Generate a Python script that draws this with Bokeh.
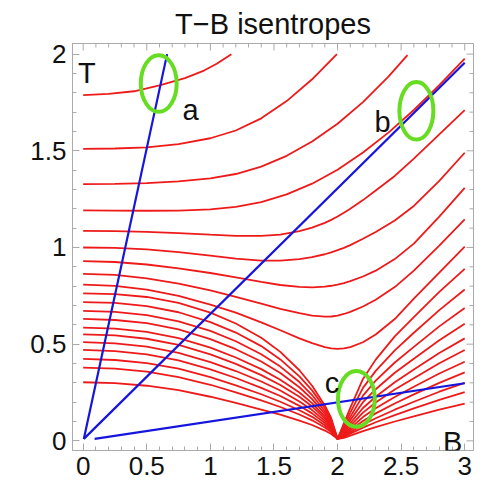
from bokeh.plotting import figure
from bokeh.models import Range1d, LinearAxis, SingleIntervalTicker, CustomJSTickFormatter, Label, Title
from bokeh.embed import file_html
from bokeh.resources import INLINE

# ---------------- data ----------------
# upper isentropes that leave the top of the plot
iso01_B = [0, 0.2, 0.4, 0.6, 0.8, 0.95, 1.05, 1.165]
iso01_T = [1.788, 1.794, 1.808, 1.838, 1.876, 1.915, 1.95, 2.0]
iso02_B = [0, 0.25, 0.5, 0.75, 1.0, 1.2, 1.4, 1.6, 1.8, 1.995]
iso02_T = [1.510, 1.512, 1.518, 1.535, 1.565, 1.605, 1.668, 1.757, 1.87, 2.0]
iso03_B = [0, 0.25, 0.5, 0.75, 1.0, 1.2, 1.4, 1.6, 1.8, 2.0, 2.2, 2.4, 2.55]
iso03_T = [1.328, 1.329, 1.333, 1.342, 1.357, 1.38, 1.418, 1.474, 1.548, 1.64, 1.752, 1.884, 1.995]
iso04_B = [0, 0.25, 0.5, 0.75, 1.0, 1.2, 1.4, 1.6, 1.8, 2.0, 2.2, 2.4, 2.6, 2.8, 3.0]
iso04_T = [1.192, 1.191, 1.19, 1.191, 1.197, 1.21, 1.235, 1.275, 1.33, 1.402, 1.491, 1.594, 1.711, 1.84, 1.977]

# isentropes read on a common field grid
B_grid = [0, 0.25, 0.5, 0.75, 1.0, 1.2, 1.4, 1.55, 1.7, 1.8, 1.9, 1.95, 2.0,
          2.05, 2.1, 2.2, 2.3, 2.45, 2.6, 2.8, 3.0]
iso05_T = [1.086, 1.085, 1.081, 1.074, 1.066, 1.06, 1.06, 1.066, 1.085, 1.103, 1.127, 1.143, 1.16,
           1.18, 1.2, 1.245, 1.295, 1.37, 1.46, 1.585, 1.71]
iso06_T = [1.0, 0.998, 0.99, 0.976, 0.958, 0.942, 0.932, 0.932, 0.94, 0.95, 0.965, 0.975, 0.986,
           0.998, 1.012, 1.045, 1.08, 1.14, 1.215, 1.345, 1.49]
iso07_T = [0.929, 0.925, 0.912, 0.892, 0.868, 0.845, 0.822, 0.806, 0.796, 0.794, 0.798, 0.802, 0.808,
           0.816, 0.826, 0.85, 0.88, 0.94, 1.02, 1.16, 1.308]
iso08_T = [0.864, 0.858, 0.84, 0.813, 0.778, 0.745, 0.71, 0.683, 0.66, 0.648, 0.642, 0.643, 0.648,
           0.656, 0.667, 0.695, 0.73, 0.795, 0.88, 1.01, 1.146]
iso09_T = [0.808, 0.801, 0.782, 0.75, 0.705, 0.663, 0.613, 0.572, 0.53, 0.505, 0.485, 0.478, 0.476,
           0.478, 0.485, 0.51, 0.55, 0.63, 0.735, 0.87, 1.005]
iso10_T = [0.763, 0.759, 0.744, 0.713, 0.663, 0.607, 0.533, 0.460, 0.365, 0.285, 0.183, 0.118, 0.01,
           0.09, 0.17, 0.32, 0.42, 0.54, 0.64, 0.77, 0.889]
iso11_T = [0.717, 0.713, 0.697, 0.665, 0.614, 0.560, 0.490, 0.421, 0.333, 0.261, 0.168, 0.108, 0.01,
           0.078, 0.146, 0.274, 0.362, 0.468, 0.559, 0.676, 0.783]
iso12_T = [0.672, 0.667, 0.650, 0.618, 0.569, 0.515, 0.448, 0.384, 0.304, 0.237, 0.153, 0.099, 0.01,
           0.067, 0.124, 0.234, 0.311, 0.405, 0.486, 0.592, 0.687]
iso13_T = [0.631, 0.625, 0.609, 0.576, 0.526, 0.474, 0.410, 0.351, 0.277, 0.216, 0.139, 0.090, 0.01,
           0.058, 0.107, 0.200, 0.267, 0.352, 0.425, 0.520, 0.606]
iso14_T = [0.586, 0.580, 0.563, 0.531, 0.482, 0.431, 0.371, 0.316, 0.250, 0.195, 0.125, 0.081, 0.01,
           0.049, 0.091, 0.170, 0.228, 0.303, 0.369, 0.454, 0.530]
iso15_T = [0.551, 0.545, 0.528, 0.496, 0.447, 0.398, 0.340, 0.289, 0.228, 0.178, 0.115, 0.075, 0.01,
           0.043, 0.078, 0.146, 0.198, 0.265, 0.324, 0.401, 0.470]
iso16_T = [0.510, 0.504, 0.487, 0.455, 0.407, 0.361, 0.307, 0.260, 0.203, 0.159, 0.103, 0.067, 0.01,
           0.036, 0.065, 0.123, 0.168, 0.227, 0.280, 0.348, 0.409]
iso17_T = [0.470, 0.464, 0.447, 0.416, 0.370, 0.325, 0.274, 0.232, 0.181, 0.142, 0.092, 0.060, 0.01,
           0.030, 0.055, 0.103, 0.142, 0.193, 0.240, 0.300, 0.354]
iso18_T = [0.424, 0.418, 0.402, 0.373, 0.329, 0.287, 0.241, 0.202, 0.158, 0.124, 0.080, 0.053, 0.01,
           0.025, 0.045, 0.084, 0.117, 0.161, 0.202, 0.254, 0.300]
iso19_T = [0.379, 0.373, 0.358, 0.330, 0.290, 0.251, 0.209, 0.175, 0.136, 0.106, 0.069, 0.045, 0.01,
           0.021, 0.037, 0.068, 0.096, 0.133, 0.168, 0.212, 0.252]
iso20_T = [0.303, 0.298, 0.285, 0.262, 0.228, 0.196, 0.162, 0.135, 0.105, 0.082, 0.053, 0.035, 0.01,
           0.015, 0.027, 0.050, 0.071, 0.100, 0.127, 0.161, 0.192]

# straight lines T = const * B (blue)
ray_a_B = [0.005, 0.66]
ray_a_T = [0.01, 2.0]
ray_b_B = [0.005, 3.0]
ray_b_T = [0.01, 1.955]
ray_c_B = [0.09, 3.0]
ray_c_T = [0.01, 0.298]

# marked regions (green ellipses)
mark_labels = ["a", "b", "c"]
mark_B = [0.594, 2.62, 2.148]
mark_T = [1.848, 1.707, 0.217]
mark_w = [0.282, 0.267, 0.289]
mark_h = [0.293, 0.298, 0.288]

# ---------------- figure ----------------
FONT = "Liberation Sans"
X0, X1 = -0.084, 3.069
Y0, Y1 = -0.05, 2.055
p = figure(width=475, height=482, output_backend="svg", toolbar_location=None,
           x_range=Range1d(X0, X1), y_range=Range1d(Y0, Y1),
           x_axis_location=None, y_axis_location=None,
           min_border_left=72, min_border_right=2, min_border_top=43, min_border_bottom=32)
p.title = Title(text="T\u2212B isentropes", align="center", text_font=FONT,
                text_font_size="29px", text_font_style="normal", text_color="#111111",
                standoff=8)
p.grid.visible = False
p.outline_line_color = "#aaaaaa"
p.background_fill_color = "white"
p.border_fill_color = "white"

GRAY = "#aaaaaa"
fmt = CustomJSTickFormatter(code="return String(Math.round(tick*10)/10);")
for loc in ["below", "left"]:
    ax = LinearAxis(ticker=SingleIntervalTicker(interval=0.5, num_minor_ticks=5), formatter=fmt)
    ax.axis_line_color = GRAY
    ax.major_tick_line_color = GRAY
    ax.minor_tick_line_color = GRAY
    ax.major_tick_in = 7
    ax.major_tick_out = 0
    ax.minor_tick_in = 4
    ax.minor_tick_out = 0
    ax.major_label_text_font = FONT
    ax.major_label_text_font_size = "26px"
    ax.major_label_text_color = "#111111"
    ax.major_label_standoff = 6
    p.add_layout(ax, loc)

# inward ticks on the top and right edges of the frame
xt = [i / 10 for i in range(0, 31)]
yt = [i / 10 for i in range(0, 21)]
px_x = (X1 - X0) / 401.0
px_y = (Y1 - Y0) / 407.0
top_len = [(7 if abs(v * 2 - round(v * 2)) < 1e-9 else 4) * px_y for v in xt]
right_len = [(7 if abs(v * 2 - round(v * 2)) < 1e-9 else 4) * px_x for v in yt]
p.segment(x0=xt, y0=[Y1] * len(xt), x1=xt, y1=[Y1 - l for l in top_len], line_color=GRAY, line_width=1)
p.segment(x0=[X1] * len(yt), y0=yt, x1=[X1 - l for l in right_len], y1=yt, line_color=GRAY, line_width=1)

RED = "#ee1a1a"
for bb, tt in [(iso01_B, iso01_T), (iso02_B, iso02_T), (iso03_B, iso03_T), (iso04_B, iso04_T)]:
    p.line(bb, tt, line_color=RED, line_width=1.8)
for tt in [iso05_T, iso06_T, iso07_T, iso08_T, iso09_T, iso10_T, iso11_T, iso12_T, iso13_T,
           iso14_T, iso15_T, iso16_T, iso17_T, iso18_T, iso19_T, iso20_T]:
    p.line(B_grid, tt, line_color=RED, line_width=1.8)

BLUE = "#1515dd"
for bb, tt in [(ray_a_B, ray_a_T), (ray_b_B, ray_b_T), (ray_c_B, ray_c_T)]:
    p.line(bb, tt, line_color=BLUE, line_width=2.2)

p.ellipse(x=mark_B, y=mark_T, width=mark_w, height=mark_h, fill_color=None,
          line_color="#66dd22", line_width=4)

def lab(txt, x, y):
    p.add_layout(Label(x=x, y=y, text=txt, text_font=FONT, text_font_size="29px",
                       text_color="#111111", text_baseline="alphabetic", text_align="left"))

lab("T", -0.04, 1.90)
lab(mark_labels[0], 0.78, 1.71)
lab(mark_labels[1], 2.29, 1.65)
lab(mark_labels[2], 1.90, 0.30)
lab("B", 2.83, -0.005)

open("out.html", "w").write(file_html(p, INLINE))
